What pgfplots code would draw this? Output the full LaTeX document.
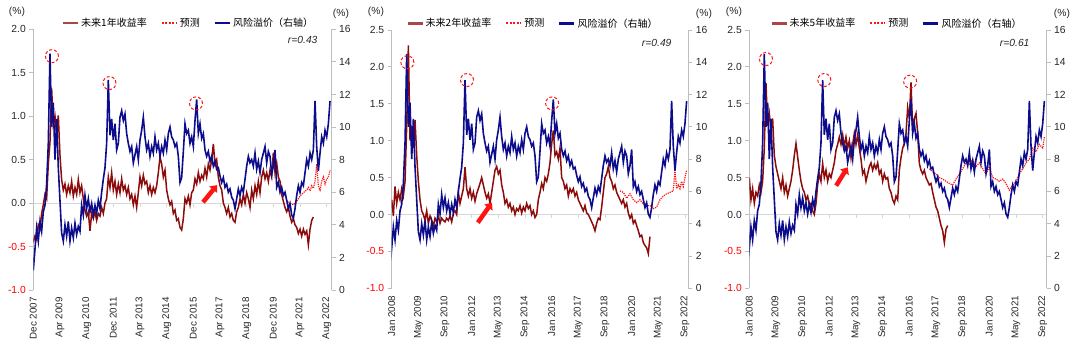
\documentclass[border=0pt]{standalone}
\usepackage{pgfplots}
\pgfplotsset{compat=1.18}
\usepackage{pgfplotstable}
\usepackage{fontspec}
\setmainfont{Liberation Sans}
\newfontfamily\cjk{Noto Sans CJK SC}
\usetikzlibrary{arrows.meta}
\definecolor{dred}{RGB}{140,12,12}
\definecolor{lred}{RGB}{170,70,70}
\definecolor{dblue}{RGB}{12,12,140}
\definecolor{axgray}{RGB}{190,190,190}
\definecolor{zgray}{RGB}{215,215,215}
\definecolor{fred}{RGB}{255,20,20}

\pgfplotstableread[row sep=\\]{t v\\
-1 1.2\\ 0 2.5\\ 1 3.8\\ 2 3.0\\ 3 4.2\\ 4 3.6\\ 5 4.8\\ 6 5.2\\ 7 6.5\\ 8 9.0\\ 9 14.5\\ 10 10.0\\ 11 11.5\\ 12 8.0\\ 13 10.5\\ 14 7.5\\ 15 5.5\\ 16 3.5\\ 17 3.0\\ 18 4.0\\ 19 3.3\\ 20 4.2\\ 21 3.0\\ 22 3.8\\ 23 3.2\\ 24 4.1\\ 25 3.4\\ 26 3.9\\ 27 3.6\\ 28 5.2\\ 29 4.6\\ 30 5.8\\ 31 5.0\\ 32 5.6\\ 33 4.8\\ 34 5.3\\ 35 4.6\\ 36 5.2\\ 37 4.7\\ 38 5.5\\ 39 5.0\\ 40 6.0\\ 41 6.8\\ 42 7.5\\ 43 9.0\\ 44 12.9\\ 45 9.5\\ 46 10.5\\ 47 9.2\\ 48 10.2\\ 49 8.6\\ 50 9.0\\ 51 10.6\\ 52 11.0\\ 53 10.4\\ 54 10.8\\ 55 9.6\\ 56 9.0\\ 57 8.5\\ 58 8.8\\ 59 7.8\\ 60 8.3\\ 61 8.8\\ 62 8.0\\ 63 9.2\\ 64 9.8\\ 65 10.6\\ 66 9.4\\ 67 8.6\\ 68 9.0\\ 69 8.2\\ 70 8.8\\ 71 8.4\\ 72 9.4\\ 73 8.6\\ 74 9.0\\ 75 8.2\\ 76 8.8\\ 77 8.4\\ 78 9.2\\ 79 8.6\\ 80 9.6\\ 81 10.0\\ 82 9.4\\ 83 9.2\\ 84 8.8\\ 85 9.0\\ 86 8.2\\ 87 6.6\\ 88 6.9\\ 89 8.5\\ 90 10.2\\ 91 9.6\\ 92 9.8\\ 93 9.0\\ 94 9.4\\ 95 8.8\\ 96 10.4\\ 97 11.7\\ 98 9.6\\ 99 10.2\\ 100 9.3\\ 101 9.6\\ 102 8.6\\ 103 8.2\\ 104 8.5\\ 105 7.9\\ 106 8.2\\ 107 7.6\\ 108 7.9\\ 109 7.4\\ 110 7.5\\ 111 7.0\\ 112 6.6\\ 113 6.9\\ 114 6.3\\ 115 6.5\\ 116 6.0\\ 117 6.2\\ 118 5.7\\ 119 5.5\\ 120 5.0\\ 121 5.6\\ 122 6.2\\ 123 5.8\\ 124 6.3\\ 125 6.0\\ 126 6.8\\ 127 7.6\\ 128 8.2\\ 129 7.8\\ 130 8.0\\ 131 7.6\\ 132 8.4\\ 133 7.4\\ 134 7.9\\ 135 7.2\\ 136 8.0\\ 137 8.4\\ 138 8.8\\ 139 7.8\\ 140 8.5\\ 141 8.2\\ 142 7.1\\ 143 7.6\\ 144 8.6\\ 145 6.3\\ 146 6.6\\ 147 6.0\\ 148 6.3\\ 149 5.8\\ 150 6.0\\ 151 5.5\\ 152 5.0\\ 153 5.3\\ 154 4.6\\ 155 4.4\\ 156 5.0\\ 157 5.8\\ 158 6.4\\ 159 6.0\\ 160 6.6\\ 161 6.4\\ 162 7.2\\ 163 8.0\\ 164 7.6\\ 165 8.4\\ 166 8.0\\ 167 8.6\\ 168 11.6\\ 169 8.8\\ 170 7.3\\ 171 8.4\\ 172 9.4\\ 173 9.0\\ 174 9.8\\ 175 9.4\\ 176 10.2\\ 177 11.6\\
}\blueT

\pgfplotstableread[row sep=\\]{t v\\
-1 -0.45\\ 0 -0.38\\ 1 -0.42\\ 2 -0.25\\ 3 -0.3\\ 4 -0.12\\ 5 -0.02\\ 6 0.1\\ 7 0.05\\ 8 0.45\\ 9 0.7\\ 10 1.32\\ 11 0.9\\ 12 1.0\\ 13 0.8\\ 14 1.01\\ 15 0.55\\ 16 0.27\\ 17 0.15\\ 18 0.22\\ 19 0.1\\ 20 0.2\\ 21 0.12\\ 22 0.25\\ 23 0.08\\ 24 0.18\\ 25 0.1\\ 26 0.27\\ 27 0.12\\ 28 0.2\\ 29 0.05\\ 30 -0.08\\ 31 -0.15\\ 32 -0.1\\ 33 -0.32\\ 34 -0.12\\ 35 -0.18\\ 36 -0.1\\ 37 -0.2\\ 38 -0.12\\ 39 -0.15\\ 40 -0.05\\ 41 -0.12\\ 42 0.0\\ 43 0.05\\ 44 0.3\\ 45 0.18\\ 46 0.35\\ 47 0.15\\ 48 0.25\\ 49 0.1\\ 50 0.22\\ 51 0.12\\ 52 0.28\\ 53 0.15\\ 54 0.2\\ 55 0.1\\ 56 0.18\\ 57 0.05\\ 58 0.1\\ 59 -0.02\\ 60 0.08\\ 61 -0.05\\ 62 0.12\\ 63 0.3\\ 64 0.2\\ 65 0.32\\ 66 0.22\\ 67 0.25\\ 68 0.12\\ 69 0.2\\ 70 0.1\\ 71 0.18\\ 72 0.12\\ 73 0.2\\ 74 0.35\\ 75 0.53\\ 76 0.45\\ 77 0.3\\ 78 0.38\\ 79 0.15\\ 80 0.05\\ 81 -0.02\\ 82 0.02\\ 83 -0.12\\ 84 -0.08\\ 85 -0.2\\ 86 -0.18\\ 87 -0.28\\ 88 -0.31\\ 89 -0.18\\ 90 0.05\\ 91 0.0\\ 92 0.08\\ 93 -0.02\\ 94 0.12\\ 95 0.15\\ 96 0.28\\ 97 0.22\\ 98 0.35\\ 99 0.25\\ 100 0.32\\ 101 0.28\\ 102 0.4\\ 103 0.3\\ 104 0.45\\ 105 0.38\\ 106 0.5\\ 107 0.68\\ 108 0.45\\ 109 0.5\\ 110 0.3\\ 111 0.2\\ 112 0.15\\ 113 0.0\\ 114 -0.05\\ 115 -0.12\\ 116 -0.05\\ 117 -0.16\\ 118 -0.12\\ 119 -0.2\\ 120 -0.22\\ 121 -0.1\\ 122 -0.05\\ 123 0.05\\ 124 -0.02\\ 125 0.1\\ 126 0.0\\ 127 0.12\\ 128 0.05\\ 129 -0.05\\ 130 0.15\\ 131 0.05\\ 132 0.2\\ 133 0.1\\ 134 0.25\\ 135 0.12\\ 136 0.3\\ 137 0.38\\ 138 0.28\\ 139 0.35\\ 140 0.25\\ 141 0.38\\ 142 0.3\\ 143 0.58\\ 144 0.35\\ 145 0.46\\ 146 0.3\\ 147 0.25\\ 148 0.1\\ 149 0.02\\ 150 -0.05\\ 151 -0.1\\ 152 -0.05\\ 153 -0.15\\ 154 -0.22\\ 155 -0.18\\ 156 -0.25\\ 157 -0.28\\ 158 -0.35\\ 159 -0.3\\ 160 -0.38\\ 161 -0.3\\ 162 -0.36\\ 163 -0.32\\ 164 -0.48\\ 165 -0.3\\ 166 -0.2\\ 167 -0.16\\
}\retA

\pgfplotstableread[row sep=\\]{t v\\
151 0.03\\ 153 0.0\\ 155 -0.02\\ 157 0.02\\ 159 0.08\\ 161 0.12\\ 163 0.15\\ 164 0.18\\ 165 0.14\\ 166 0.2\\ 167 0.17\\ 168 0.25\\ 169 0.45\\ 170 0.2\\ 171 0.15\\ 172 0.25\\ 173 0.3\\ 174 0.22\\ 175 0.28\\ 176 0.3\\ 177 0.38\\
}\fcA

\pgfplotstableread[row sep=\\]{t v\\
0 0.2\\ 1 -0.02\\ 2 0.38\\ 3 0.15\\ 4 0.3\\ 5 0.2\\ 6 0.35\\ 7 0.25\\ 8 0.45\\ 9 1.2\\ 10 2.29\\ 11 1.0\\ 12 1.2\\ 13 0.9\\ 14 1.28\\ 15 0.8\\ 16 0.45\\ 17 0.2\\ 18 0.05\\ 19 0.0\\ 20 -0.08\\ 21 0.05\\ 22 -0.12\\ 23 -0.02\\ 24 -0.08\\ 25 -0.15\\ 26 -0.05\\ 27 -0.1\\ 28 -0.02\\ 29 -0.12\\ 30 -0.05\\ 31 -0.08\\ 32 -0.1\\ 33 -0.05\\ 34 -0.08\\ 35 -0.02\\ 36 -0.1\\ 37 0.02\\ 38 0.05\\ 39 0.0\\ 40 0.3\\ 41 0.15\\ 42 0.25\\ 43 0.35\\ 44 0.64\\ 45 0.35\\ 46 0.25\\ 47 0.35\\ 48 0.22\\ 49 0.3\\ 50 0.18\\ 51 0.28\\ 52 0.35\\ 53 0.42\\ 54 0.5\\ 55 0.4\\ 56 0.3\\ 57 0.22\\ 58 0.28\\ 59 0.15\\ 60 0.3\\ 61 0.45\\ 62 0.6\\ 63 0.65\\ 64 0.55\\ 65 0.6\\ 66 0.4\\ 67 0.3\\ 68 0.15\\ 69 0.2\\ 70 0.1\\ 71 0.15\\ 72 0.05\\ 73 0.1\\ 74 0.0\\ 75 0.08\\ 76 0.05\\ 77 0.12\\ 78 0.02\\ 79 0.1\\ 80 0.05\\ 81 0.15\\ 82 0.08\\ 83 0.12\\ 84 0.0\\ 85 0.05\\ 86 -0.04\\ 87 0.0\\ 88 0.2\\ 89 0.3\\ 90 0.42\\ 91 0.35\\ 92 0.5\\ 93 0.45\\ 94 0.55\\ 95 0.7\\ 96 0.96\\ 97 1.14\\ 98 0.8\\ 99 0.85\\ 100 0.75\\ 101 0.9\\ 102 0.5\\ 103 0.45\\ 104 0.35\\ 105 0.4\\ 106 0.25\\ 107 0.35\\ 108 0.3\\ 109 0.35\\ 110 0.25\\ 111 0.3\\ 112 0.2\\ 113 0.15\\ 114 0.1\\ 115 0.05\\ 116 0.12\\ 117 0.02\\ 118 0.0\\ 119 -0.05\\ 120 -0.1\\ 121 -0.15\\ 122 -0.22\\ 123 -0.12\\ 124 -0.05\\ 125 -0.07\\ 126 0.1\\ 127 0.3\\ 128 0.5\\ 129 0.55\\ 130 0.65\\ 131 0.5\\ 132 0.45\\ 133 0.35\\ 134 0.4\\ 135 0.3\\ 136 0.25\\ 137 0.2\\ 138 0.15\\ 139 0.2\\ 140 0.1\\ 141 0.15\\ 142 0.02\\ 143 -0.05\\ 144 0.0\\ 145 -0.12\\ 146 -0.08\\ 147 -0.15\\ 148 -0.22\\ 149 -0.3\\ 150 -0.28\\ 151 -0.38\\ 152 -0.42\\ 153 -0.45\\ 154 -0.53\\ 155 -0.3\\
}\retB

\pgfplotstableread[row sep=\\]{t v\\
137 0.32\\ 139 0.3\\ 141 0.22\\ 143 0.28\\ 145 0.2\\ 147 0.16\\ 149 0.2\\ 151 0.14\\ 153 0.12\\ 155 0.12\\ 157 0.08\\ 159 0.1\\ 161 0.2\\ 163 0.25\\ 165 0.28\\ 167 0.3\\ 169 0.32\\ 170 0.6\\ 171 0.35\\ 172 0.4\\ 173 0.35\\ 174 0.45\\ 175 0.38\\ 176 0.5\\ 177 0.6\\
}\fcB

\pgfplotstableread[row sep=\\]{t v\\
0 0.5\\ 1 0.2\\ 2 0.35\\ 3 0.15\\ 4 0.3\\ 5 0.25\\ 6 0.4\\ 7 0.3\\ 8 0.45\\ 9 0.9\\ 10 1.78\\ 11 1.2\\ 12 1.37\\ 13 1.15\\ 14 1.3\\ 15 0.8\\ 16 0.65\\ 17 0.55\\ 18 0.45\\ 19 0.35\\ 20 0.5\\ 21 0.3\\ 22 0.4\\ 23 0.25\\ 24 0.35\\ 25 0.45\\ 26 0.6\\ 27 0.8\\ 28 0.96\\ 29 0.78\\ 30 0.6\\ 31 0.45\\ 32 0.35\\ 33 0.3\\ 34 0.2\\ 35 0.25\\ 36 0.12\\ 37 0.15\\ 38 0.05\\ 39 0.0\\ 40 0.15\\ 41 0.4\\ 42 0.55\\ 43 0.45\\ 44 0.69\\ 45 0.5\\ 46 0.6\\ 47 0.45\\ 48 0.55\\ 49 0.5\\ 50 0.6\\ 51 0.7\\ 52 0.87\\ 53 0.95\\ 54 1.05\\ 55 0.95\\ 56 1.08\\ 57 0.92\\ 58 1.05\\ 59 0.9\\ 60 1.0\\ 61 0.77\\ 62 0.95\\ 63 1.1\\ 64 0.95\\ 65 1.08\\ 66 0.9\\ 67 0.75\\ 68 0.55\\ 69 0.6\\ 70 0.45\\ 71 0.55\\ 72 0.65\\ 73 0.7\\ 74 0.6\\ 75 0.68\\ 76 0.62\\ 77 0.7\\ 78 0.55\\ 79 0.6\\ 80 0.45\\ 81 0.55\\ 82 0.48\\ 83 0.5\\ 84 0.35\\ 85 0.3\\ 86 0.2\\ 87 0.15\\ 88 0.25\\ 89 0.2\\ 90 0.6\\ 91 0.77\\ 92 0.9\\ 93 0.96\\ 94 1.1\\ 95 1.45\\ 96 1.3\\ 97 1.79\\ 98 1.14\\ 99 1.3\\ 100 1.37\\ 101 1.1\\ 102 0.69\\ 103 0.6\\ 104 0.55\\ 105 0.6\\ 106 0.5\\ 107 0.45\\ 108 0.4\\ 109 0.42\\ 110 0.3\\ 111 0.2\\ 112 0.1\\ 113 0.05\\ 114 -0.05\\ 115 -0.15\\ 116 -0.22\\ 117 -0.38\\ 118 -0.2\\ 119 -0.15\\
}\retC

\pgfplotstableread[row sep=\\]{t v\\
108 0.62\\ 110 0.58\\ 112 0.55\\ 114 0.5\\ 116 0.48\\ 118 0.45\\ 120 0.42\\ 122 0.4\\ 124 0.48\\ 126 0.55\\ 128 0.62\\ 130 0.7\\ 132 0.68\\ 134 0.75\\ 136 0.65\\ 138 0.7\\ 140 0.62\\ 142 0.55\\ 144 0.65\\ 146 0.5\\ 148 0.48\\ 150 0.45\\ 152 0.48\\ 154 0.42\\ 156 0.33\\ 158 0.4\\ 160 0.45\\ 162 0.55\\ 164 0.62\\ 166 0.7\\ 168 0.75\\ 170 0.9\\ 172 0.85\\ 174 0.95\\ 176 0.9\\ 177 1.05\\
}\fcC

\tikzset{
  circ/.style={fred, line width=1pt, dash pattern=on 3pt off 2pt},
  arr/.style={fred, line width=4.5pt, -{Triangle[length=6pt,width=10pt]}},
  ztick/.style={zgray, line width=0.8pt},
}
\pgfplotsset{
  common/.style={
    scale only axis, anchor=south west,
    axis line style={axgray, line width=0.8pt},
    tick style={axgray, line width=0.8pt},
    tick align=outside, major tick length=4pt,
    ticklabel style={font=\fontsize{10.3}{12}\selectfont, text=black!85},
  },
  leftax/.style={common,
    axis y line*=left, axis x line*=bottom,
    x axis line style={draw=none},
    xtick style={draw=none},
    xticklabel style={rotate=90, anchor=east, font=\fontsize{9.8}{11}\selectfont},
    legend columns=3,
    legend style={draw=none, fill=none, font=\cjk\fontsize{10}{12}\selectfont,
      at={(0.5,1)}, anchor=center, yshift=6.5pt,
      /tikz/every even column/.append style={column sep=12pt}},
    legend image code/.code={\draw[##1] (0pt,0pt) -- (15pt,0pt);},
  },
  rightax/.style={common,
    axis y line*=right, axis x line=none, xtick=\empty,
    ymin=0, ymax=16, ytick={0,2,4,6,8,10,12,14,16},
    yticklabels={0,2,4,6,8,10,12,14,16},
  },
  redline/.style={dred, line width=1.5pt},
  fcline/.style={fred, densely dotted, line width=1.2pt},
  blueline/.style={dblue, line width=1.6pt},
  legR/.style={lred, line width=2.4pt},
  legF/.style={fred, dash pattern=on 2pt off 1.5pt, line width=2pt},
  legB/.style={dblue, line width=2.4pt},
}

\begin{document}
\begin{tikzpicture}[x=1pt,y=1pt]
\useasboundingbox (0,0) rectangle (1080,355);

% ---------------- Panel 1 ----------------
\begin{axis}[leftax, at={(33.3pt,65pt)}, width=298.4pt, height=260.7pt,
  xmin=-1, xmax=178, ymin=-1, ymax=2,
  xtick={-1,15,31,47,63,79,95,111,127,143,159,175},
  xticklabels={Dec 2007,Apr 2009,Aug 2010,Dec 2011,Apr 2013,Aug 2014,Dec 2015,Apr 2017,Aug 2018,Dec 2019,Apr 2021,Aug 2022},
  ytick={-1,-0.5,0,0.5,1,1.5,2},
  yticklabels={{\color{red}-1.0},{\color{red}-0.5},0.0,0.5,1.0,1.5,2.0},
  legend style={xshift=6pt}]
  \draw[ztick] (axis cs:-1,0) -- (axis cs:178,0);
  \pgfplotsinvokeforeach{15,31,47,63,79,95,111,127,143,159,175}{\draw[ztick] (axis cs:#1,0) -- ++(0pt,-4pt);}
  \addplot[redline, forget plot] table[x=t,y=v] {\retA};
  \addplot[fcline, forget plot] table[x=t,y=v] {\fcA};
  \addlegendimage{legR} \addlegendentry{未来1年收益率}
  \addlegendimage{legF} \addlegendentry{预测}
  \addlegendimage{legB} \addlegendentry{风险溢价（右轴）}
  \draw[arr] (axis cs:100.8,0.01) -- (axis cs:109.2,0.207);
\end{axis}
\begin{axis}[rightax, at={(33.3pt,65pt)}, width=298.4pt, height=260.7pt, xmin=-1, xmax=178]
  \addplot[blueline] table[x=t,y=v] {\blueT};
  \draw[circ] (axis cs:10.2,14.35) circle[radius=6.5pt];
  \draw[circ] (axis cs:44.7,12.7) circle[radius=6.5pt];
  \draw[circ] (axis cs:96.6,11.45) circle[radius=6.5pt];
\end{axis}
\node[font=\fontsize{10.3}{12}\selectfont, text=black!85] at (17,343) {(\%)};
\node[font=\fontsize{10.3}{12}\selectfont, text=black!85] at (341,341) {(\%)};
\node[anchor=east, font=\itshape\fontsize{10.3}{12}\selectfont, text=black!85] at (321,315) {r=0.43};

% ---------------- Panel 2 ----------------
\begin{axis}[leftax, at={(391.7pt,66.7pt)}, width=296.6pt, height=258.3pt,
  xmin=0, xmax=178, ymin=-1, ymax=2.5,
  xtick={0,16,32,48,64,80,96,112,128,144,160,176},
  xticklabels={Jan 2008,May 2009,Sep 2010,Jan 2012,May 2013,Sep 2014,Jan 2016,May 2017,Sep 2018,Jan 2020,May 2021,Sep 2022},
  ytick={-1,-0.5,0,0.5,1,1.5,2,2.5},
  yticklabels={{\color{red}-1.0},{\color{red}-0.5},0.0,0.5,1.0,1.5,2.0,2.5},
  legend style={xshift=-7pt}]
  \draw[ztick] (axis cs:0,0) -- (axis cs:178,0);
  \pgfplotsinvokeforeach{16,32,48,64,80,96,112,128,144,160,176}{\draw[ztick] (axis cs:#1,0) -- ++(0pt,-4pt);}
  \addplot[redline, forget plot] table[x=t,y=v] {\retB};
  \addplot[fcline, forget plot] table[x=t,y=v] {\fcB};
  \addlegendimage{legR} \addlegendentry{未来2年收益率}
  \addlegendimage{legF} \addlegendentry{预测}
  \addlegendimage{legB} \addlegendentry{风险溢价（右轴）}
  \draw[arr] (axis cs:51.7,-0.11) -- (axis cs:60.1,0.16);
\end{axis}
\begin{axis}[rightax, at={(391.7pt,66.7pt)}, width=296.6pt, height=258.3pt, xmin=0, xmax=178]
  \addplot[blueline] table[x=t,y=v] {\blueT};
  \draw[circ] (axis cs:9.4,14.0) circle[radius=6.5pt];
  \draw[circ] (axis cs:45.2,12.9) circle[radius=6.5pt];
  \draw[circ] (axis cs:96.3,11.45) circle[radius=6.5pt];
\end{axis}
\node[font=\fontsize{10.3}{12}\selectfont, text=black!85] at (376,343) {(\%)};
\node[font=\fontsize{10.3}{12}\selectfont, text=black!85] at (704,341) {(\%)};
\node[anchor=east, font=\itshape\fontsize{10.3}{12}\selectfont, text=black!85] at (675,312) {r=0.49};

% ---------------- Panel 3 ----------------
\begin{axis}[leftax, at={(749.3pt,66.7pt)}, width=297.4pt, height=258.3pt,
  xmin=0, xmax=178.4, ymin=-1, ymax=2.5,
  xtick={0,16,32,48,64,80,96,112,128,144,160,176},
  xticklabels={Jan 2008,May 2009,Sep 2010,Jan 2012,May 2013,Sep 2014,Jan 2016,May 2017,Sep 2018,Jan 2020,May 2021,Sep 2022},
  ytick={-1,-0.5,0,0.5,1,1.5,2,2.5},
  yticklabels={{\color{red}-1.0},{\color{red}-0.5},0.0,0.5,1.0,1.5,2.0,2.5},
  legend style={xshift=-1pt}]
  \draw[ztick] (axis cs:0,0) -- (axis cs:178.4,0);
  \pgfplotsinvokeforeach{16,32,48,64,80,96,112,128,144,160,176}{\draw[ztick] (axis cs:#1,0) -- ++(0pt,-4pt);}
  \addplot[redline, forget plot] table[x=t,y=v] {\retC};
  \addplot[fcline, forget plot] table[x=t,y=v] {\fcC};
  \addlegendimage{legR} \addlegendentry{未来5年收益率}
  \addlegendimage{legF} \addlegendentry{预测}
  \addlegendimage{legB} \addlegendentry{风险溢价（右轴）}
  \draw[arr] (axis cs:52.1,0.39) -- (axis cs:59.0,0.64);
\end{axis}
\begin{axis}[rightax, at={(749.3pt,66.7pt)}, width=297.4pt, height=258.3pt, xmin=0, xmax=178.4]
  \addplot[blueline] table[x=t,y=v] {\blueT};
  \draw[circ] (axis cs:10.0,14.2) circle[radius=6.5pt];
  \draw[circ] (axis cs:45.0,12.9) circle[radius=6.5pt];
  \draw[circ] (axis cs:96.5,12.8) circle[radius=6.5pt];
\end{axis}
\node[font=\fontsize{10.3}{12}\selectfont, text=black!85] at (734,343) {(\%)};
\node[font=\fontsize{10.3}{12}\selectfont, text=black!85] at (1062,341) {(\%)};
\node[anchor=east, font=\itshape\fontsize{10.3}{12}\selectfont, text=black!85] at (1033,312) {r=0.61};
\end{tikzpicture}
\end{document}
